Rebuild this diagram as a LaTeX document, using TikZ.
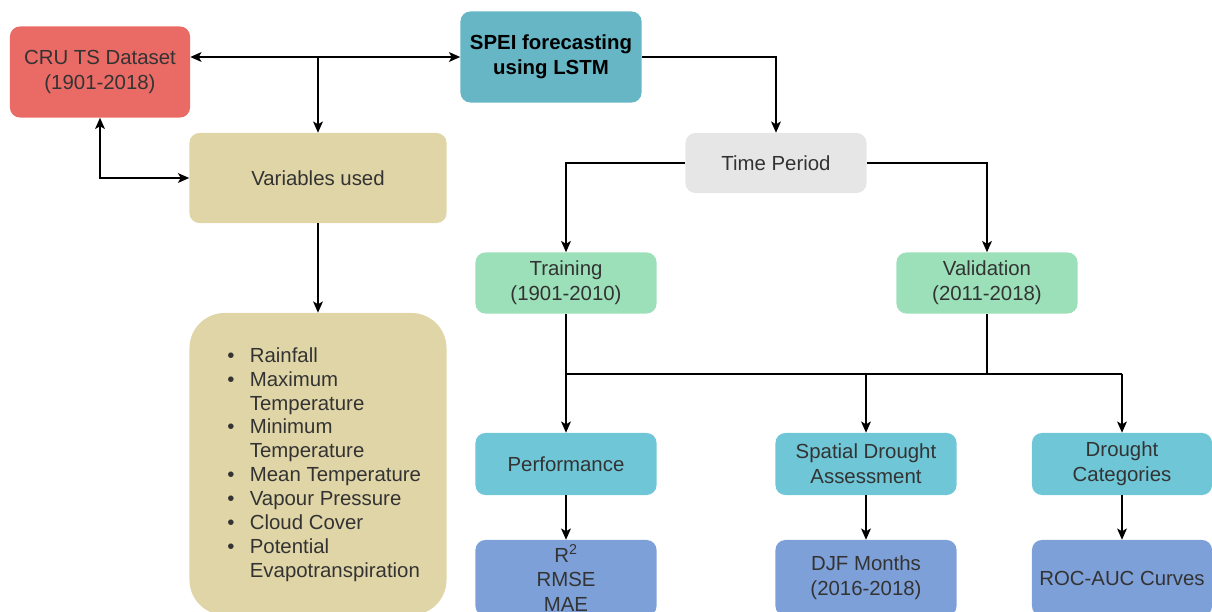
\documentclass[tikz,border=0pt]{standalone}
\usepackage{fontspec}
\setmainfont{Liberation Sans}
\usepackage{xcolor}
\usetikzlibrary{arrows.meta}

\definecolor{crured}{HTML}{EA6B66}
\definecolor{speiblue}{HTML}{66B6C6}
\definecolor{vartan}{HTML}{E0D5A6}
\definecolor{timegray}{HTML}{E6E6E6}
\definecolor{phasegreen}{HTML}{9BE0B9}
\definecolor{taskcyan}{HTML}{6EC6D7}
\definecolor{metricblue}{HTML}{7EA0D9}
\definecolor{txt}{HTML}{333333}

\tikzset{box/.style = {draw=none, rounded corners=7pt, inner sep=0pt,
                       align=center, text=txt,
                       font=\fontsize{14.5}{17.5}\selectfont}}
\tikzset{flow/.style = {-{Stealth[length=8pt,width=7pt,inset=2pt]}, line width=0.9pt}}
\tikzset{dflow/.style = {{Stealth[length=8pt,width=7pt,inset=2pt]}-{Stealth[length=8pt,width=7pt,inset=2pt]}, line width=0.9pt}}
\tikzset{wire/.style = {line width=0.9pt}}

\begin{document}
\begin{tikzpicture}[x=0.025cm, y=-0.025cm]
      \useasboundingbox (0,0) rectangle (1212,612);
      \clip (0,0) rectangle (1212,612);

      % upper left part
      \node[box, fill=crured, minimum width=4.5cm, minimum height=2.275cm] (cru) at (100,72) {CRU TS Dataset\\(1901-2018)};
      \node[box, fill=speiblue, minimum width=4.525cm, minimum height=2.275cm, text=black,
            font=\fontsize{14.5}{17.5}\selectfont\bfseries] (spei) at (551,57) {SPEI forecasting\\using LSTM};
      \node[box, fill=vartan, minimum width=6.425cm, minimum height=2.25cm] (vars) at (318,178) {Variables used};
      \node[box, fill=vartan, rounded corners=25pt, minimum width=6.425cm, minimum height=7.55cm] (list) at (318,464) {};
      \node[anchor=west, text=txt, inner sep=0pt, font=\fontsize{14.5}{17}\selectfont] (items) at (227,465) {%
        \begin{tabular}{@{}l@{\hspace{11pt}}l@{}}
          \textbullet & Rainfall\\
          \textbullet & Maximum\\
                      & Temperature\\
          \textbullet & Minimum\\
                      & Temperature\\
          \textbullet & Mean Temperature\\
          \textbullet & Vapour Pressure\\
          \textbullet & Cloud Cover\\
          \textbullet & Potential\\
                      & Evapotranspiration
        \end{tabular}};

      % right part
      \node[box, fill=timegray, minimum width=4.525cm, minimum height=1.5cm] (time) at (776,163) {Time Period};
      \node[box, fill=phasegreen, minimum width=4.525cm, minimum height=1.525cm] (train) at (566,283) {Training\\(1901-2010)};
      \node[box, fill=phasegreen, minimum width=4.525cm, minimum height=1.525cm] (valid) at (987,283) {Validation\\(2011-2018)};
      \node[box, fill=taskcyan, minimum width=4.525cm, minimum height=1.55cm] (perf) at (566,464) {Performance};
      \node[box, fill=taskcyan, minimum width=4.525cm, minimum height=1.55cm] (spat) at (866,464) {Spatial Drought\\Assessment};
      \node[box, fill=taskcyan, minimum width=4.5cm, minimum height=1.55cm] (cat) at (1122,464) {Drought\\Categories};
      \node[box, fill=metricblue, minimum width=4.525cm, minimum height=1.9cm] (metr) at (566,578) {R\textsuperscript{2}\\RMSE\\MAE};
      \node[box, fill=metricblue, minimum width=4.525cm, minimum height=1.9cm] (djf) at (866,578) {DJF Months\\(2016-2018)};
      \node[box, fill=metricblue, minimum width=4.5cm, minimum height=1.9cm] (roc) at (1122,578) {ROC-AUC Curves};

      % connectors
      \draw[dflow] (cru.east |- spei.west) -- (spei.west);
      \draw[flow] (vars.north |- spei.west) -- (vars.north);
      \draw[dflow] (cru.south) |- (vars.west);
      \draw[flow] (vars.south) -- (list.north);
      \draw[flow] (spei.east) -| (time.north);
      \draw[flow] (time.west) -| (train.north);
      \draw[flow] (time.east) -| (valid.north);

      \coordinate (split) at (566,374);
      \draw[wire] (train.south) -- (split);
      \draw[wire] (valid.south) -- (valid.south |- split);
      \draw[wire] (split) -- (split -| cat.north);
      \draw[flow] (split) -- (perf.north);
      \draw[flow] (spat.north |- split) -- (spat.north);
      \draw[flow] (cat.north |- split) -- (cat.north);

      \draw[flow] (perf.south) -- (metr.north);
      \draw[flow] (spat.south) -- (djf.north);
      \draw[flow] (cat.south) -- (roc.north);
    \end{tikzpicture}
\end{document}
